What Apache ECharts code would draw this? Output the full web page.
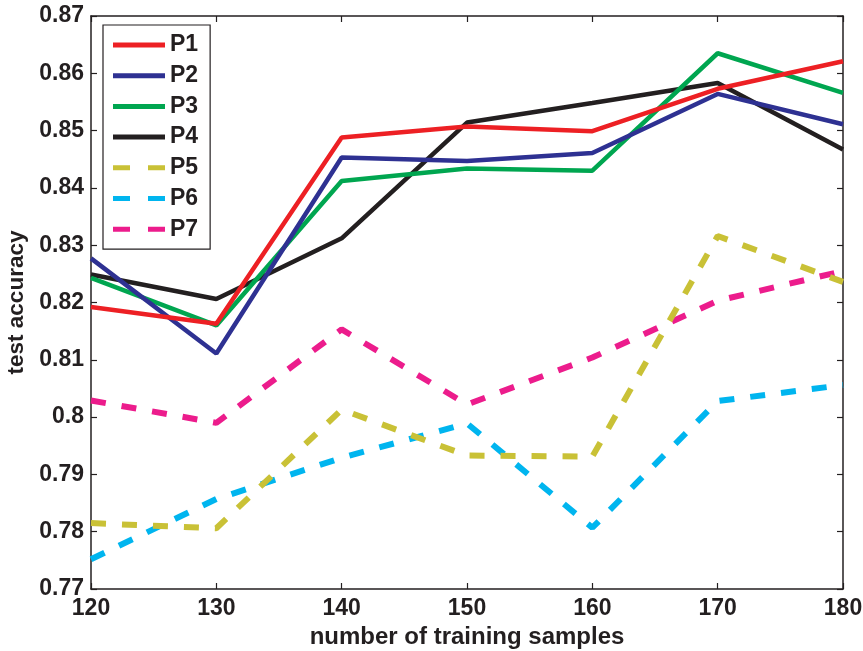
<!DOCTYPE html>
<html>
<head>
<meta charset="utf-8">
<script src="https://cdn.jsdelivr.net/npm/echarts@6/dist/echarts.min.js"></script>
<style>
  html, body { margin: 0; padding: 0; background: #fff; }
  #chart { width: 863px; height: 651px; }
</style>
</head>
<body>
<div id="chart"></div>
<script>
// 训练样本数
var samples = [120, 130, 140, 150, 160, 170, 180];
var p1 = [0.8192, 0.8163, 0.8488, 0.8507, 0.8499, 0.8573, 0.8621];
var p2 = [0.8277, 0.8111, 0.8453, 0.8447, 0.8461, 0.8564, 0.8511];
var p3 = [0.8243, 0.8160, 0.8412, 0.8434, 0.8430, 0.8635, 0.8566];
var p4 = [0.8249, 0.8206, 0.8312, 0.8514, 0.8548, 0.8583, 0.8467];
var p5 = [0.7815, 0.7806, 0.8013, 0.7933, 0.7931, 0.8316, 0.8236];
var p6 = [0.7752, 0.7857, 0.7929, 0.7989, 0.7807, 0.8028, 0.8056];
var p7 = [0.8029, 0.7990, 0.8153, 0.8022, 0.8104, 0.8203, 0.8255];

var names = ['P1', 'P2', 'P3', 'P4', 'P5', 'P6', 'P7'];
var values = [p1, p2, p3, p4, p5, p6, p7];
var colors = ['#ed2024', '#2e3192', '#00a650', '#231f20', '#c9c136', '#00b5ef', '#ec1c8c'];

var font = 'Liberation Sans, Arial, Helvetica, sans-serif';
var ink = '#231f20';

// 图例图标：实线 / 两段虚线
var solidIcon = 'path://M0,0H52V5H0Z';
var dashIcon = 'path://M0,0H17V5H0Z M35,0H52V5H35Z';

var series = names.map(function(n, i) {
    var dashed = i >= 4;
    return {
        name: n,
        type: 'line',
        data: samples.map(function(x, k) { return [x, values[i][k]]; }),
        symbol: 'none',
        lineStyle: {
            color: colors[i],
            width: dashed ? 6 : 4.5,
            type: dashed ? [15, 16] : 'solid',
            cap: 'butt'
        },
        itemStyle: { color: colors[i] },
        z: 10 - i
    };
});

var legendData = names.map(function(n, i) {
    return { name: n, icon: i >= 4 ? dashIcon : solidIcon, itemStyle: { color: colors[i], borderWidth: 0 } };
});

var myChart = echarts.init(document.getElementById('chart'));

var axisLine = { show: true, lineStyle: { color: ink, width: 1.5 } };
var ticks = { show: true, inside: true, length: 6, lineStyle: { color: ink, width: 1.2 } };

var option = {
    animation: false,
    backgroundColor: '#fff',
    grid: { left: 91, right: 20, top: 16, bottom: 62, outerBoundsMode: 'none' },
    legend: {
        orient: 'vertical',
        left: 103,
        top: 25,
        data: legendData,
        itemWidth: 52,
        itemHeight: 5,
        itemGap: 6.7,
        symbolKeepAspect: false,
        padding: [8, 12, 8, 10],
        borderColor: ink,
        borderWidth: 1.2,
        backgroundColor: '#fff',
        textStyle: { fontFamily: font, fontWeight: 'bold', fontSize: 23, color: ink, lineHeight: 24 }
    },
    xAxis: [{
        type: 'value',
        min: 120, max: 180, interval: 10,
        name: 'number of training samples',
        nameLocation: 'middle',
        nameGap: 32,
        nameTextStyle: { fontFamily: font, fontWeight: 'bold', fontSize: 24, color: ink },
        axisLine: axisLine,
        axisTick: ticks,
        splitLine: { show: false },
        axisLabel: { fontFamily: font, fontWeight: 'bold', fontSize: 23, color: ink, margin: 8 }
    }, {
        type: 'value', position: 'top',
        min: 120, max: 180, interval: 10,
        axisLine: axisLine, axisTick: ticks,
        splitLine: { show: false }, axisLabel: { show: false }
    }],
    yAxis: [{
        type: 'value',
        min: 0.77, max: 0.87, interval: 0.01,
        name: 'test accuracy',
        nameLocation: 'middle',
        nameGap: 62,
        nameTextStyle: { fontFamily: font, fontWeight: 'bold', fontSize: 22.5, color: ink },
        axisLine: axisLine,
        axisTick: ticks,
        splitLine: { show: false },
        axisLabel: { fontFamily: font, fontWeight: 'bold', fontSize: 23, color: ink, margin: 7 }
    }, {
        type: 'value', position: 'right',
        min: 0.77, max: 0.87, interval: 0.01,
        axisLine: axisLine, axisTick: ticks,
        splitLine: { show: false }, axisLabel: { show: false }
    }],
    series: series
};

myChart.setOption(option);
</script>
</body>
</html>
